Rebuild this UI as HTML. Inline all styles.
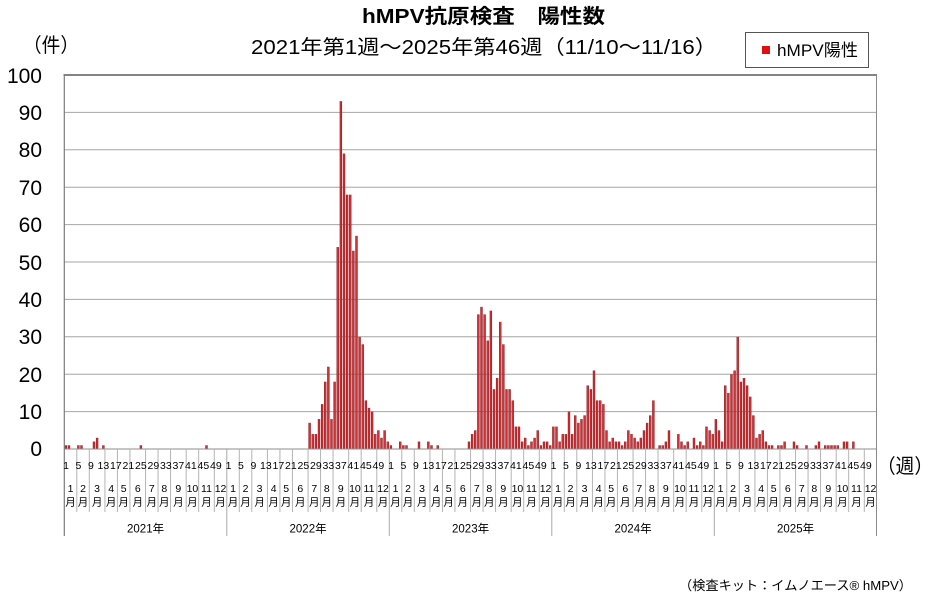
<!DOCTYPE html>
<html><head><meta charset="utf-8"><style>
html,body{margin:0;padding:0;background:#fff;}
svg{display:block;}
text{font-family:"Liberation Sans","Noto Sans CJK JP",sans-serif;fill:#000;}
</style></head><body>
<svg width="927" height="604" viewBox="0 0 927 604" xmlns="http://www.w3.org/2000/svg">
<defs>
<linearGradient id="bg" x1="0" y1="0" x2="1" y2="0">
<stop offset="0" stop-color="#8a1216"/><stop offset="0.5" stop-color="#de3a40"/><stop offset="1" stop-color="#8a1216"/>
</linearGradient>
</defs>
<rect width="927" height="604" fill="#fff"/>
<!-- titles -->
<text x="362" y="23" font-size="20" font-weight="bold" textLength="243" lengthAdjust="spacingAndGlyphs">hMPV抗原検査　陽性数</text>
<text x="251" y="54" font-size="20" textLength="466" lengthAdjust="spacingAndGlyphs">2021年第1週～2025年第46週（11/10～11/16）</text>
<text x="23" y="52" font-size="20" textLength="56" lengthAdjust="spacingAndGlyphs">（件）</text>
<!-- legend -->
<rect x="745.5" y="32.5" width="123" height="35" fill="#fff" stroke="#555" stroke-width="1"/>
<rect x="762" y="46" width="8" height="8" fill="#e01010"/>
<text x="777" y="56" font-size="17" textLength="81" lengthAdjust="spacingAndGlyphs">hMPV陽性</text>
<!-- gridlines -->
<g stroke="#a6a6a6" stroke-width="1">
<line x1="64.3" y1="411.6" x2="876.5" y2="411.6"/>
<line x1="64.3" y1="374.2" x2="876.5" y2="374.2"/>
<line x1="64.3" y1="336.8" x2="876.5" y2="336.8"/>
<line x1="64.3" y1="299.4" x2="876.5" y2="299.4"/>
<line x1="64.3" y1="262" x2="876.5" y2="262"/>
<line x1="64.3" y1="224.6" x2="876.5" y2="224.6"/>
<line x1="64.3" y1="187.2" x2="876.5" y2="187.2"/>
<line x1="64.3" y1="149.8" x2="876.5" y2="149.8"/>
<line x1="64.3" y1="112.4" x2="876.5" y2="112.4"/>
</g>
<!-- y labels -->
<g font-size="21" text-anchor="end">
<text x="42" y="83">100</text>
<text x="42" y="120">90</text>
<text x="42" y="157">80</text>
<text x="42" y="195">70</text>
<text x="42" y="232">60</text>
<text x="42" y="270">50</text>
<text x="42" y="307">40</text>
<text x="42" y="344">30</text>
<text x="42" y="382">20</text>
<text x="42" y="419">10</text>
<text x="42" y="456">0</text>
</g>
<!-- bars -->
<g transform="translate(64.3,449) scale(3.125,-3.74)" fill="url(#bg)">
<rect x="0.12" y="0" width="0.76" height="1"/><rect x="1.12" y="0" width="0.76" height="1"/><rect x="4.12" y="0" width="0.76" height="1"/><rect x="5.12" y="0" width="0.76" height="1"/><rect x="9.12" y="0" width="0.76" height="2"/><rect x="10.12" y="0" width="0.76" height="3"/><rect x="12.12" y="0" width="0.76" height="1"/><rect x="24.12" y="0" width="0.76" height="1"/><rect x="45.12" y="0" width="0.76" height="1"/>
<rect x="78.12" y="0" width="0.76" height="7"/><rect x="79.12" y="0" width="0.76" height="4"/><rect x="80.12" y="0" width="0.76" height="4"/><rect x="81.12" y="0" width="0.76" height="8"/><rect x="82.12" y="0" width="0.76" height="12"/><rect x="83.12" y="0" width="0.76" height="18"/><rect x="84.12" y="0" width="0.76" height="22"/><rect x="85.12" y="0" width="0.76" height="8"/><rect x="86.12" y="0" width="0.76" height="18"/><rect x="87.12" y="0" width="0.76" height="54"/><rect x="88.12" y="0" width="0.76" height="93"/><rect x="89.12" y="0" width="0.76" height="79"/><rect x="90.12" y="0" width="0.76" height="68"/><rect x="91.12" y="0" width="0.76" height="68"/><rect x="92.12" y="0" width="0.76" height="53"/><rect x="93.12" y="0" width="0.76" height="57"/><rect x="94.12" y="0" width="0.76" height="30"/><rect x="95.12" y="0" width="0.76" height="28"/><rect x="96.12" y="0" width="0.76" height="13"/><rect x="97.12" y="0" width="0.76" height="11"/><rect x="98.12" y="0" width="0.76" height="10"/><rect x="99.12" y="0" width="0.76" height="4"/><rect x="100.12" y="0" width="0.76" height="5"/><rect x="101.12" y="0" width="0.76" height="3"/><rect x="102.12" y="0" width="0.76" height="5"/><rect x="103.12" y="0" width="0.76" height="2"/><rect x="104.12" y="0" width="0.76" height="1"/>
<rect x="107.12" y="0" width="0.76" height="2"/><rect x="108.12" y="0" width="0.76" height="1"/><rect x="109.12" y="0" width="0.76" height="1"/><rect x="113.12" y="0" width="0.76" height="2"/><rect x="116.12" y="0" width="0.76" height="2"/><rect x="117.12" y="0" width="0.76" height="1"/><rect x="119.12" y="0" width="0.76" height="1"/><rect x="129.12" y="0" width="0.76" height="2"/><rect x="130.12" y="0" width="0.76" height="4"/><rect x="131.12" y="0" width="0.76" height="5"/><rect x="132.12" y="0" width="0.76" height="36"/><rect x="133.12" y="0" width="0.76" height="38"/><rect x="134.12" y="0" width="0.76" height="36"/><rect x="135.12" y="0" width="0.76" height="29"/><rect x="136.12" y="0" width="0.76" height="37"/><rect x="137.12" y="0" width="0.76" height="16"/><rect x="138.12" y="0" width="0.76" height="19"/><rect x="139.12" y="0" width="0.76" height="34"/><rect x="140.12" y="0" width="0.76" height="28"/><rect x="141.12" y="0" width="0.76" height="16"/><rect x="142.12" y="0" width="0.76" height="16"/><rect x="143.12" y="0" width="0.76" height="13"/><rect x="144.12" y="0" width="0.76" height="6"/><rect x="145.12" y="0" width="0.76" height="6"/><rect x="146.12" y="0" width="0.76" height="2"/><rect x="147.12" y="0" width="0.76" height="3"/><rect x="148.12" y="0" width="0.76" height="1"/><rect x="149.12" y="0" width="0.76" height="2"/><rect x="150.12" y="0" width="0.76" height="3"/><rect x="151.12" y="0" width="0.76" height="5"/><rect x="152.12" y="0" width="0.76" height="1"/><rect x="153.12" y="0" width="0.76" height="2"/><rect x="154.12" y="0" width="0.76" height="2"/><rect x="155.12" y="0" width="0.76" height="1"/>
<rect x="156.12" y="0" width="0.76" height="6"/><rect x="157.12" y="0" width="0.76" height="6"/><rect x="158.12" y="0" width="0.76" height="2"/><rect x="159.12" y="0" width="0.76" height="4"/><rect x="160.12" y="0" width="0.76" height="4"/><rect x="161.12" y="0" width="0.76" height="10"/><rect x="162.12" y="0" width="0.76" height="4"/><rect x="163.12" y="0" width="0.76" height="9"/><rect x="164.12" y="0" width="0.76" height="7"/><rect x="165.12" y="0" width="0.76" height="8"/><rect x="166.12" y="0" width="0.76" height="9"/><rect x="167.12" y="0" width="0.76" height="17"/><rect x="168.12" y="0" width="0.76" height="16"/><rect x="169.12" y="0" width="0.76" height="21"/><rect x="170.12" y="0" width="0.76" height="13"/><rect x="171.12" y="0" width="0.76" height="13"/><rect x="172.12" y="0" width="0.76" height="12"/><rect x="173.12" y="0" width="0.76" height="5"/><rect x="174.12" y="0" width="0.76" height="2"/><rect x="175.12" y="0" width="0.76" height="3"/><rect x="176.12" y="0" width="0.76" height="2"/><rect x="177.12" y="0" width="0.76" height="2"/><rect x="178.12" y="0" width="0.76" height="1"/><rect x="179.12" y="0" width="0.76" height="2"/><rect x="180.12" y="0" width="0.76" height="5"/><rect x="181.12" y="0" width="0.76" height="4"/><rect x="182.12" y="0" width="0.76" height="3"/><rect x="183.12" y="0" width="0.76" height="2"/><rect x="184.12" y="0" width="0.76" height="3"/><rect x="185.12" y="0" width="0.76" height="5"/><rect x="186.12" y="0" width="0.76" height="7"/><rect x="187.12" y="0" width="0.76" height="9"/><rect x="188.12" y="0" width="0.76" height="13"/><rect x="190.12" y="0" width="0.76" height="1"/><rect x="191.12" y="0" width="0.76" height="1"/><rect x="192.12" y="0" width="0.76" height="2"/><rect x="193.12" y="0" width="0.76" height="5"/><rect x="196.12" y="0" width="0.76" height="4"/><rect x="197.12" y="0" width="0.76" height="2"/><rect x="198.12" y="0" width="0.76" height="1"/><rect x="199.12" y="0" width="0.76" height="2"/><rect x="201.12" y="0" width="0.76" height="3"/><rect x="202.12" y="0" width="0.76" height="1"/><rect x="203.12" y="0" width="0.76" height="2"/><rect x="204.12" y="0" width="0.76" height="1"/><rect x="205.12" y="0" width="0.76" height="6"/><rect x="206.12" y="0" width="0.76" height="5"/><rect x="207.12" y="0" width="0.76" height="4"/>
<rect x="208.12" y="0" width="0.76" height="8"/><rect x="209.12" y="0" width="0.76" height="5"/><rect x="210.12" y="0" width="0.76" height="2"/><rect x="211.12" y="0" width="0.76" height="17"/><rect x="212.12" y="0" width="0.76" height="15"/><rect x="213.12" y="0" width="0.76" height="20"/><rect x="214.12" y="0" width="0.76" height="21"/><rect x="215.12" y="0" width="0.76" height="30"/><rect x="216.12" y="0" width="0.76" height="18"/><rect x="217.12" y="0" width="0.76" height="19"/><rect x="218.12" y="0" width="0.76" height="17"/><rect x="219.12" y="0" width="0.76" height="14"/><rect x="220.12" y="0" width="0.76" height="9"/><rect x="221.12" y="0" width="0.76" height="3"/><rect x="222.12" y="0" width="0.76" height="4"/><rect x="223.12" y="0" width="0.76" height="5"/><rect x="224.12" y="0" width="0.76" height="2"/><rect x="225.12" y="0" width="0.76" height="1"/><rect x="226.12" y="0" width="0.76" height="1"/><rect x="228.12" y="0" width="0.76" height="1"/><rect x="229.12" y="0" width="0.76" height="1"/><rect x="230.12" y="0" width="0.76" height="2"/><rect x="233.12" y="0" width="0.76" height="2"/><rect x="234.12" y="0" width="0.76" height="1"/><rect x="237.12" y="0" width="0.76" height="1"/><rect x="240.12" y="0" width="0.76" height="1"/><rect x="241.12" y="0" width="0.76" height="2"/><rect x="243.12" y="0" width="0.76" height="1"/><rect x="244.12" y="0" width="0.76" height="1"/><rect x="245.12" y="0" width="0.76" height="1"/><rect x="246.12" y="0" width="0.76" height="1"/><rect x="247.12" y="0" width="0.76" height="1"/><rect x="249.12" y="0" width="0.76" height="2"/><rect x="250.12" y="0" width="0.76" height="2"/><rect x="252.12" y="0" width="0.76" height="2"/>
</g>
<!-- frame -->
<line x1="64.3" y1="449" x2="876.5" y2="449" stroke="#8c8c8c" stroke-width="1"/>
<line x1="63.5" y1="75" x2="877" y2="75" stroke="#5a5a5a" stroke-width="1.6"/>
<line x1="64.3" y1="75" x2="64.3" y2="536" stroke="#7a7a7a" stroke-width="1.2"/>
<line x1="876.5" y1="75" x2="876.5" y2="536" stroke="#8a8a8a" stroke-width="1"/>
<!-- year separators -->
<g stroke="#a8a8a8" stroke-width="1">
<line x1="226.8" y1="449" x2="226.8" y2="536"/>
<line x1="389.3" y1="449" x2="389.3" y2="536"/>
<line x1="551.8" y1="449" x2="551.8" y2="536"/>
<line x1="714.3" y1="449" x2="714.3" y2="536"/>
</g>
<!-- per-year axis -->
<g transform="translate(64.3,0)">
<path d="M12.5 449V512M25 449V512M40.63 449V512M53.13 449V512M65.63 449V512M81.25 449V512M93.75 449V512M106.25 449V512M121.88 449V512M134.38 449V512M150 449V512" stroke="#b4b4b4" stroke-width="1"/>
<g font-size="10.5" text-anchor="middle"><text x="1.7" y="469">1</text><text x="14.1" y="469">5</text><text x="26.6" y="469">9</text><text x="39.1" y="469">13</text><text x="51.6" y="469">17</text><text x="64.1" y="469">21</text><text x="76.6" y="469">25</text><text x="89.1" y="469">29</text><text x="101.6" y="469">33</text><text x="114.1" y="469">37</text><text x="126.6" y="469">41</text><text x="139.1" y="469">45</text><text x="151.6" y="469">49</text></g>
<g font-size="10.5" text-anchor="middle"><text x="6.25" y="492">1</text><text x="18.75" y="492">2</text><text x="32.81" y="492">3</text><text x="46.88" y="492">4</text><text x="59.38" y="492">5</text><text x="73.44" y="492">6</text><text x="87.5" y="492">7</text><text x="100" y="492">8</text><text x="114.06" y="492">9</text><text x="128.13" y="492">10</text><text x="142.19" y="492">11</text><text x="156.25" y="492">12</text></g>
<g font-size="10.5" text-anchor="middle"><text x="6.25" y="505.5">月</text><text x="18.75" y="505.5">月</text><text x="32.81" y="505.5">月</text><text x="46.88" y="505.5">月</text><text x="59.38" y="505.5">月</text><text x="73.44" y="505.5">月</text><text x="87.5" y="505.5">月</text><text x="100" y="505.5">月</text><text x="114.06" y="505.5">月</text><text x="128.13" y="505.5">月</text><text x="142.19" y="505.5">月</text><text x="156.25" y="505.5">月</text></g>
<text x="81.25" y="532.5" font-size="11.5" text-anchor="middle">2021年</text>
</g>
<g transform="translate(226.8,0)">
<path d="M12.5 449V512M25 449V512M40.63 449V512M53.13 449V512M65.63 449V512M81.25 449V512M93.75 449V512M106.25 449V512M121.88 449V512M134.38 449V512M150 449V512" stroke="#b4b4b4" stroke-width="1"/>
<g font-size="10.5" text-anchor="middle"><text x="1.7" y="469">1</text><text x="14.1" y="469">5</text><text x="26.6" y="469">9</text><text x="39.1" y="469">13</text><text x="51.6" y="469">17</text><text x="64.1" y="469">21</text><text x="76.6" y="469">25</text><text x="89.1" y="469">29</text><text x="101.6" y="469">33</text><text x="114.1" y="469">37</text><text x="126.6" y="469">41</text><text x="139.1" y="469">45</text><text x="151.6" y="469">49</text></g>
<g font-size="10.5" text-anchor="middle"><text x="6.25" y="492">1</text><text x="18.75" y="492">2</text><text x="32.81" y="492">3</text><text x="46.88" y="492">4</text><text x="59.38" y="492">5</text><text x="73.44" y="492">6</text><text x="87.5" y="492">7</text><text x="100" y="492">8</text><text x="114.06" y="492">9</text><text x="128.13" y="492">10</text><text x="142.19" y="492">11</text><text x="156.25" y="492">12</text></g>
<g font-size="10.5" text-anchor="middle"><text x="6.25" y="505.5">月</text><text x="18.75" y="505.5">月</text><text x="32.81" y="505.5">月</text><text x="46.88" y="505.5">月</text><text x="59.38" y="505.5">月</text><text x="73.44" y="505.5">月</text><text x="87.5" y="505.5">月</text><text x="100" y="505.5">月</text><text x="114.06" y="505.5">月</text><text x="128.13" y="505.5">月</text><text x="142.19" y="505.5">月</text><text x="156.25" y="505.5">月</text></g>
<text x="81.25" y="532.5" font-size="11.5" text-anchor="middle">2022年</text>
</g>
<g transform="translate(389.3,0)">
<path d="M12.5 449V512M25 449V512M40.63 449V512M53.13 449V512M65.63 449V512M81.25 449V512M93.75 449V512M106.25 449V512M121.88 449V512M134.38 449V512M150 449V512" stroke="#b4b4b4" stroke-width="1"/>
<g font-size="10.5" text-anchor="middle"><text x="1.7" y="469">1</text><text x="14.1" y="469">5</text><text x="26.6" y="469">9</text><text x="39.1" y="469">13</text><text x="51.6" y="469">17</text><text x="64.1" y="469">21</text><text x="76.6" y="469">25</text><text x="89.1" y="469">29</text><text x="101.6" y="469">33</text><text x="114.1" y="469">37</text><text x="126.6" y="469">41</text><text x="139.1" y="469">45</text><text x="151.6" y="469">49</text></g>
<g font-size="10.5" text-anchor="middle"><text x="6.25" y="492">1</text><text x="18.75" y="492">2</text><text x="32.81" y="492">3</text><text x="46.88" y="492">4</text><text x="59.38" y="492">5</text><text x="73.44" y="492">6</text><text x="87.5" y="492">7</text><text x="100" y="492">8</text><text x="114.06" y="492">9</text><text x="128.13" y="492">10</text><text x="142.19" y="492">11</text><text x="156.25" y="492">12</text></g>
<g font-size="10.5" text-anchor="middle"><text x="6.25" y="505.5">月</text><text x="18.75" y="505.5">月</text><text x="32.81" y="505.5">月</text><text x="46.88" y="505.5">月</text><text x="59.38" y="505.5">月</text><text x="73.44" y="505.5">月</text><text x="87.5" y="505.5">月</text><text x="100" y="505.5">月</text><text x="114.06" y="505.5">月</text><text x="128.13" y="505.5">月</text><text x="142.19" y="505.5">月</text><text x="156.25" y="505.5">月</text></g>
<text x="81.25" y="532.5" font-size="11.5" text-anchor="middle">2023年</text>
</g>
<g transform="translate(551.8,0)">
<path d="M12.5 449V512M25 449V512M40.63 449V512M53.13 449V512M65.63 449V512M81.25 449V512M93.75 449V512M106.25 449V512M121.88 449V512M134.38 449V512M150 449V512" stroke="#b4b4b4" stroke-width="1"/>
<g font-size="10.5" text-anchor="middle"><text x="1.7" y="469">1</text><text x="14.1" y="469">5</text><text x="26.6" y="469">9</text><text x="39.1" y="469">13</text><text x="51.6" y="469">17</text><text x="64.1" y="469">21</text><text x="76.6" y="469">25</text><text x="89.1" y="469">29</text><text x="101.6" y="469">33</text><text x="114.1" y="469">37</text><text x="126.6" y="469">41</text><text x="139.1" y="469">45</text><text x="151.6" y="469">49</text></g>
<g font-size="10.5" text-anchor="middle"><text x="6.25" y="492">1</text><text x="18.75" y="492">2</text><text x="32.81" y="492">3</text><text x="46.88" y="492">4</text><text x="59.38" y="492">5</text><text x="73.44" y="492">6</text><text x="87.5" y="492">7</text><text x="100" y="492">8</text><text x="114.06" y="492">9</text><text x="128.13" y="492">10</text><text x="142.19" y="492">11</text><text x="156.25" y="492">12</text></g>
<g font-size="10.5" text-anchor="middle"><text x="6.25" y="505.5">月</text><text x="18.75" y="505.5">月</text><text x="32.81" y="505.5">月</text><text x="46.88" y="505.5">月</text><text x="59.38" y="505.5">月</text><text x="73.44" y="505.5">月</text><text x="87.5" y="505.5">月</text><text x="100" y="505.5">月</text><text x="114.06" y="505.5">月</text><text x="128.13" y="505.5">月</text><text x="142.19" y="505.5">月</text><text x="156.25" y="505.5">月</text></g>
<text x="81.25" y="532.5" font-size="11.5" text-anchor="middle">2024年</text>
</g>
<g transform="translate(714.3,0)">
<path d="M12.5 449V512M25 449V512M40.63 449V512M53.13 449V512M65.63 449V512M81.25 449V512M93.75 449V512M106.25 449V512M121.88 449V512M134.38 449V512M150 449V512" stroke="#b4b4b4" stroke-width="1"/>
<g font-size="10.5" text-anchor="middle"><text x="1.7" y="469">1</text><text x="14.1" y="469">5</text><text x="26.6" y="469">9</text><text x="39.1" y="469">13</text><text x="51.6" y="469">17</text><text x="64.1" y="469">21</text><text x="76.6" y="469">25</text><text x="89.1" y="469">29</text><text x="101.6" y="469">33</text><text x="114.1" y="469">37</text><text x="126.6" y="469">41</text><text x="139.1" y="469">45</text><text x="151.6" y="469">49</text></g>
<g font-size="10.5" text-anchor="middle"><text x="6.25" y="492">1</text><text x="18.75" y="492">2</text><text x="32.81" y="492">3</text><text x="46.88" y="492">4</text><text x="59.38" y="492">5</text><text x="73.44" y="492">6</text><text x="87.5" y="492">7</text><text x="100" y="492">8</text><text x="114.06" y="492">9</text><text x="128.13" y="492">10</text><text x="142.19" y="492">11</text><text x="156.25" y="492">12</text></g>
<g font-size="10.5" text-anchor="middle"><text x="6.25" y="505.5">月</text><text x="18.75" y="505.5">月</text><text x="32.81" y="505.5">月</text><text x="46.88" y="505.5">月</text><text x="59.38" y="505.5">月</text><text x="73.44" y="505.5">月</text><text x="87.5" y="505.5">月</text><text x="100" y="505.5">月</text><text x="114.06" y="505.5">月</text><text x="128.13" y="505.5">月</text><text x="142.19" y="505.5">月</text><text x="156.25" y="505.5">月</text></g>
<text x="81.25" y="532.5" font-size="11.5" text-anchor="middle">2025年</text>
</g>
<text x="877" y="473" font-size="20" textLength="56" lengthAdjust="spacingAndGlyphs">（週）</text>
<text x="679" y="590" font-size="13" textLength="233" lengthAdjust="spacingAndGlyphs">（検査キット：イムノエース® hMPV）</text>
</svg>
</body></html>
